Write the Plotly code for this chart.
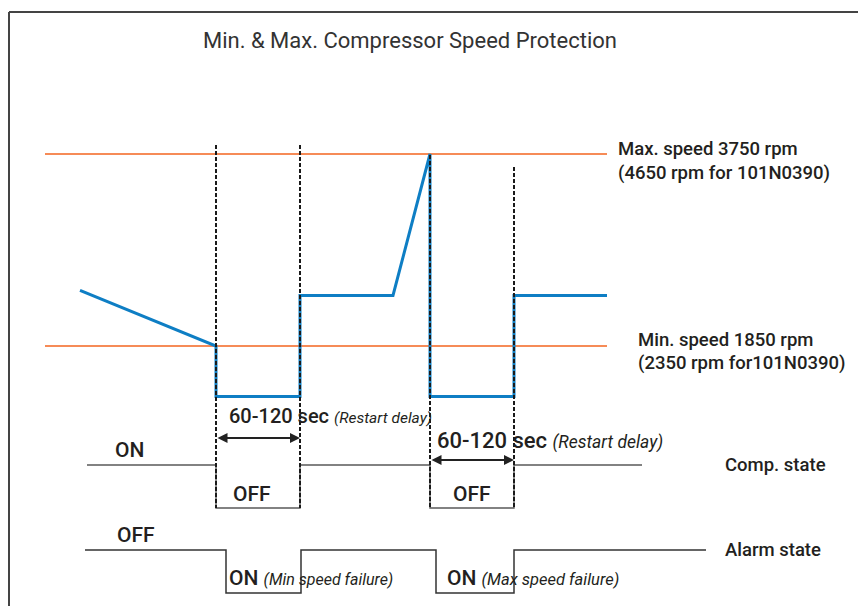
import plotly.graph_objects as go

# ---------------- data (schematic units) ----------------
# time axis in schematic units, speed in rpm
speed_t = [80, 216, 216, 300, 300, 393, 430, 430, 514, 514, 607]
speed_rpm = [2400, 1850, 1350, 1350, 2350, 2350, 3750, 1350, 1350, 2350, 2350]

max_speed = 3750
min_speed = 1850
limit_t = [45, 607]

comp_t = [87, 216, 216, 300, 300, 430, 430, 514, 514, 642]
comp_state = [1, 1, 0, 0, 1, 1, 0, 0, 1, 1]          # 1 = ON, 0 = OFF

alarm_t = [85, 226, 226, 301, 301, 436, 436, 514, 514, 706]
alarm_state = [0, 0, 1, 1, 0, 0, 1, 1, 0, 0]         # 0 = OFF, 1 = ON

event_t = [216, 300, 430, 514]

title_text = "Min. & Max. Compressor Speed Protection"
max_label = ["Max. speed 3750 rpm", "(4650 rpm for 101N0390)"]
min_label = ["Min. speed 1850 rpm", "(2350 rpm for101N0390)"]

# ---------------- layout helpers ----------------
W, H = 858, 606
FONT = "Roboto"
ORANGE = "#F68B57"
BLUE = "#0E7EC4"
TXT = "#231F20"


def axis_range(v1, p1, v2, p2):
    s = (v1 - v2) / (p1 - p2)
    return [v1 + (H - p1) * s, v1 + (0 - p1) * s]


def val(px, v1, p1, v2, p2):
    s = (v1 - v2) / (p1 - p2)
    return v1 + (px - p1) * s


def py(px):
    return 1 - px / H


speed_anchor = (max_speed, 154, min_speed, 346)
comp_anchor = (1, 465, 0, 508)
alarm_anchor = (0, 550, 1, 593)

fig = go.Figure()

# limit lines
for lvl in (max_speed, min_speed):
    fig.add_trace(go.Scatter(x=limit_t, y=[lvl, lvl], mode="lines",
                             line=dict(color=ORANGE, width=2), yaxis="y",
                             hoverinfo="skip", showlegend=False))

# speed line
fig.add_trace(go.Scatter(x=speed_t, y=speed_rpm, mode="lines",
                         line=dict(color=BLUE, width=3), yaxis="y",
                         showlegend=False))

# comp state
fig.add_trace(go.Scatter(x=comp_t, y=comp_state, mode="lines",
                         line=dict(color="#5a5a5a", width=1.4), yaxis="y2",
                         showlegend=False))

# alarm state
fig.add_trace(go.Scatter(x=alarm_t, y=alarm_state, mode="lines",
                         line=dict(color="#333333", width=1.5), yaxis="y3",
                         showlegend=False))

shapes = []
# frame
shapes.append(dict(type="line", xref="paper", yref="paper", x0=9 / W, x1=1,
                   y0=py(12), y1=py(12), line=dict(color="#444444", width=2)))
shapes.append(dict(type="line", xref="paper", yref="paper", x0=9 / W, x1=9 / W,
                   y0=py(12), y1=0, line=dict(color="#444444", width=2)))
# dashed event lines
tops = [145, 145, 155, 167]
for t, top in zip(event_t, tops):
    shapes.append(dict(type="line", xref="x", yref="paper", x0=t, x1=t,
                       y0=py(top), y1=py(508),
                       line=dict(color="#1a1a1a", width=2, dash="4px,2px")))

annotations = []


def text(x, ypx, s, size, italic=False, color=TXT, anchor="left", weight=500):
    annotations.append(dict(x=x, y=py(ypx), xref="x", yref="paper", text=s,
                            showarrow=False, xanchor=anchor, yanchor="middle",
                            font=dict(family=FONT, size=size, color=color,
                                      weight=weight,
                                      style="italic" if italic else "normal")))


def it(s, size):
    return "<span style='font-size:%spx;font-weight:400'><i>%s</i></span>" % (size, s)


text(410, 40, title_text, 22, color="#333333", anchor="center", weight=400)
text(616, 149, max_label[0], 18.5)
text(616, 173, max_label[1], 18.5)
text(636, 340, min_label[0], 18.5)
text(636, 363, min_label[1], 18.5)

text(227, 416, "60-120 sec " + it("(Restart delay)", 15.5), 20)
text(435, 440, "60-120 sec " + it("(Restart delay)", 17.5), 22)

text(113, 450, "ON", 21)
text(231, 494, "OFF", 21)
text(451, 494, "OFF", 21)
text(723, 465, "Comp. state", 18.5)

text(115, 535, "OFF", 21)
text(227, 578, "ON " + it("(Min speed failure)", 16), 21)
text(445, 578, "ON " + it("(Max speed failure)", 16.5), 21)
text(723, 550, "Alarm state", 18.5)

# double arrows
for (x0, x1, ypx) in [(216, 300, 438), (430, 514, 460)]:
    yv = val(ypx, *comp_anchor)
    annotations.append(dict(x=x1, y=yv, ax=x0, ay=yv, xref="x", yref="y2",
                            axref="x", ayref="y2", showarrow=True,
                            arrowhead=2, arrowside="end+start", arrowsize=1,
                            arrowwidth=2, arrowcolor="#222222", text=""))

hidden = dict(visible=False, showgrid=False, zeroline=False, fixedrange=True)
fig.update_layout(
    width=W, height=H,
    margin=dict(l=0, r=0, t=0, b=0),
    paper_bgcolor="white", plot_bgcolor="white",
    xaxis=dict(range=[0, W], **hidden),
    yaxis=dict(range=axis_range(*speed_anchor), **hidden),
    yaxis2=dict(range=axis_range(*comp_anchor), overlaying="y", **hidden),
    yaxis3=dict(range=axis_range(*alarm_anchor), overlaying="y", **hidden),
    shapes=shapes,
    annotations=annotations,
    showlegend=False,
    hovermode=False,
    font=dict(family=FONT, color=TXT),
)

fig.write_html("out.html",
               config={"displayModeBar": False, "staticPlot": True},
               post_script="document.body.style.margin='0';document.body.style.padding='0';")
